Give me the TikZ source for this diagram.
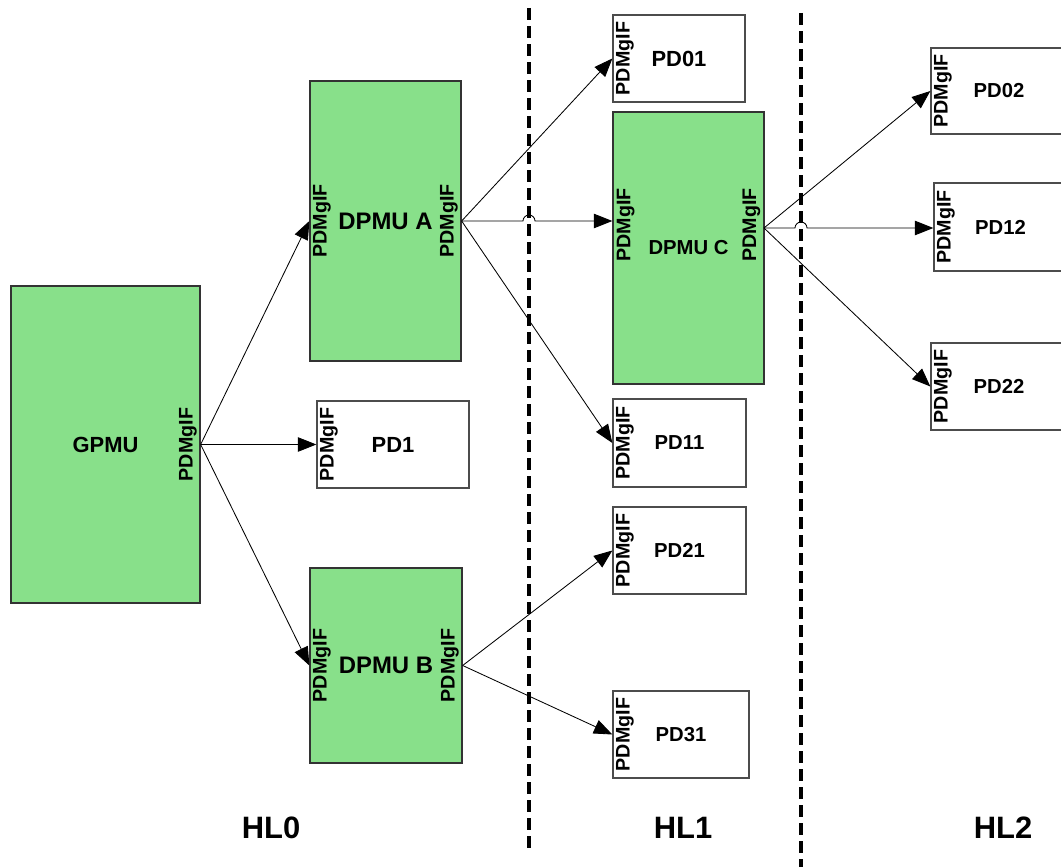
\documentclass[tikz,border=0pt]{standalone}
\usepackage{fontspec}
\setmainfont{Liberation Sans}
\usepackage{xcolor}
\usetikzlibrary{arrows.meta,positioning,calc}

\definecolor{pmugreen}{RGB}{136,224,138}

\tikzset{
  pmu/.style={draw=black!80, line width=0.9pt, fill=pmugreen, inner sep=0pt},
  pd/.style={draw=black!70, line width=0.9pt, fill=white, inner sep=0pt},
  ifl/.style={rotate=90, inner sep=2.5pt, font=\fontsize{14}{14}\selectfont\bfseries},
  link/.style={line width=0.6pt, -{Triangle[length=0.46cm,width=0.36cm]}},
  layer/.style={line width=2.2pt, dash pattern=on 0.3cm off 0.15cm},
  big/.style={font=\fontsize{15.6}{16}\selectfont\bfseries},
  small/.style={font=\fontsize{14.4}{15}\selectfont\bfseries},
}

\begin{document}
\begin{tikzpicture}[x=0.025cm, y=-0.025cm]
\clip (0,0) rectangle (1061,867);

% Hierarchy levels
\draw[layer] (529,8) -- (529,850);
\draw[layer] (801,13) -- (801,867);
\node[font=\fontsize{22}{24}\selectfont\bfseries] (hl0) at (271,828) {HL0};
\node[font=\fontsize{22}{24}\selectfont\bfseries] (hl1) at (683,828) {HL1};
\node[font=\fontsize{22}{24}\selectfont\bfseries] (hl2) at (1003,828) {HL2};

% PMUs
\node[pmu, big, minimum width=4.725cm, minimum height=7.925cm] (gpmu) at (105.5,444.5) {GPMU};
\node[pmu, font=\fontsize{17}{18}\selectfont\bfseries, minimum width=3.775cm, minimum height=7cm] (dpmua) at (385.5,221) {DPMU A};
\node[pmu, font=\fontsize{17}{18}\selectfont\bfseries, minimum width=3.8cm, minimum height=4.875cm] (dpmub) at (386,665.5) {DPMU B};
\node[pmu, small, minimum width=3.775cm, minimum height=6.8cm] (dpmuc) at (688.5,248) {DPMU C};

% PDs
\node[pd, big, minimum width=3.8cm, minimum height=2.175cm] (pd1) at (393,444.5) {PD1};
\node[pd, big, minimum width=3.3cm, minimum height=2.175cm] (pd01) at (679,58.5) {PD01};
\node[pd, small, minimum width=3.325cm, minimum height=2.2cm] (pd11) at (679.5,443) {PD11};
\node[pd, small, minimum width=3.325cm, minimum height=2.175cm] (pd21) at (679.5,550.5) {PD21};
\node[pd, small, minimum width=3.4cm, minimum height=2.175cm] (pd31) at (681,734.5) {PD31};
\node[pd, small, minimum width=3.4cm, minimum height=2.15cm] (pd02) at (999,91) {PD02};
\node[pd, small, minimum width=3.325cm, minimum height=2.2cm] (pd12) at (1000.5,227) {PD12};
\node[pd, small, minimum width=3.4cm, minimum height=2.175cm] (pd22) at (999,386.5) {PD22};

% Interfaces
\foreach \n in {pd1,pd01,pd11,pd21,pd31,pd02,pd12,pd22,dpmua,dpmub}
  \node[ifl, anchor=north] (\n-in) at (\n.west) {PDMgIF};
\foreach \n in {gpmu,dpmua,dpmub}
  \node[ifl, anchor=south] (\n-out) at (\n.east) {PDMgIF};
\node[ifl, anchor=north] (dpmuc-in) at (613,225) {PDMgIF};
\node[ifl, anchor=south] (dpmuc-out) at (764,225) {PDMgIF};
\coordinate (cout) at (764,228);

% Links
\draw[link] (gpmu.east) -- (dpmua.west);
\draw[link] (gpmu.east) -- (pd1.west);
\draw[link] (gpmu.east) -- (dpmub.west);
\draw[link] (dpmua.east) -- (pd01.west);
\draw[link] (dpmua.east) -- (523,221) arc[start angle=180, end angle=360, radius=6] -- (dpmua.east -| dpmuc.west);
\draw[link] (dpmua.east) -- (pd11.west);
\draw[link] (dpmub.east) -- (pd21.west);
\draw[link] (dpmub.east) -- (pd31.west);
\draw[link] (cout) -- (pd02.west);
\draw[link] (cout) -- (795,228) arc[start angle=180, end angle=360, radius=6] -- (pd12.west |- cout);
\draw[link] (cout) -- (pd22.west);
\end{tikzpicture}
\end{document}
